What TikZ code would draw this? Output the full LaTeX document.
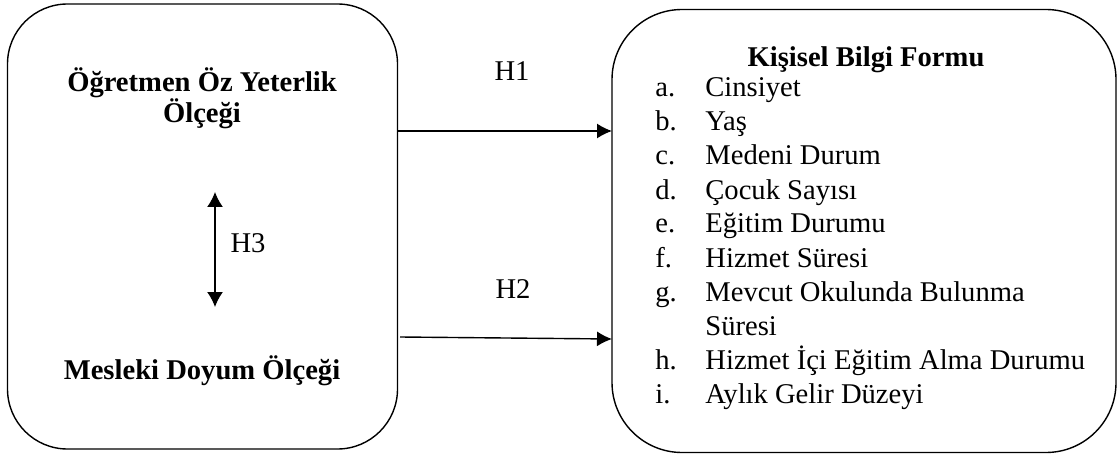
\documentclass[tikz,border=0pt]{standalone}
\usepackage{fontspec}
\setmainfont{Liberation Serif}
\usetikzlibrary{arrows.meta,positioning}

\tikzset{
  kutu/.style={draw,line width=0.7pt,inner sep=0pt,outer sep=0pt},
  ok/.style={line width=0.7pt,-{Latex[length=7.5pt,width=7.5pt]}},
  ciftok/.style={line width=0.7pt,{Latex[length=7.5pt,width=8pt]}-{Latex[length=7.5pt,width=8pt]}},
  yazi/.style={inner sep=0pt,anchor=base,font=\fontsize{14.3}{17}\selectfont},
  kalin/.style={yazi,font=\fontsize{14.3}{15.5}\selectfont\bfseries,align=center}
}

\begin{document}
\begin{tikzpicture}[x=0.5pt,y=-0.5pt]
  \useasboundingbox (0,0) rectangle (1118,454);
  % kutular
  \node [kutu,rounded corners=30pt,minimum width=195pt,minimum height=222.5pt] (lbox) at (202.5,226.5) {};
  \node [kutu,rounded corners=35pt,minimum width=252pt,minimum height=221.5pt] (rbox) at (864,231) {};
  % sol kutu yazilari
  \node [kalin] (ozy) at (202,123) {Öğretmen Öz Yeterlik\\Ölçeği};
  \node [kalin] (mdo) at (202,379) {Mesleki Doyum Ölçeği};
  \coordinate (h3a) at (215,192);
  \coordinate (h3b) at (215,307);
  \draw [ciftok] (h3a) -- (h3b);
  \node [yazi] (h3) at (248,253) {H3};
  % hipotez oklari
  \node [yazi] (h1) at (512,81) {H1};
  \node [yazi] (h2) at (513,298) {H2};
  \draw [ok] (lbox.east |- 0,131) -- (rbox.west |- 0,131);
  \coordinate (h2a) at (400,337);
  \draw [ok] (h2a) -- (rbox.west |- 0,339);
  % sag kutu
  \node [kalin] (kbf) at (866,67) {Kişisel Bilgi Formu};
  \foreach \l/\t [count=\i from 0] in {a./Cinsiyet,b./Yaş,c./Medeni Durum,d./Çocuk Sayısı,
      e./Eğitim Durumu,f./Hizmet Süresi,g./Mevcut Okulunda Bulunma,/Süresi,
      h./Hizmet İçi Eğitim Alma Durumu,i./Aylık Gelir Düzeyi}{
    \node [yazi,anchor=base west] (m\i) at (655,97+34*\i) {\l};
    \node [yazi,anchor=base west] (t\i) at (705,97+34*\i) {\t};
  }
\end{tikzpicture}
\end{document}
